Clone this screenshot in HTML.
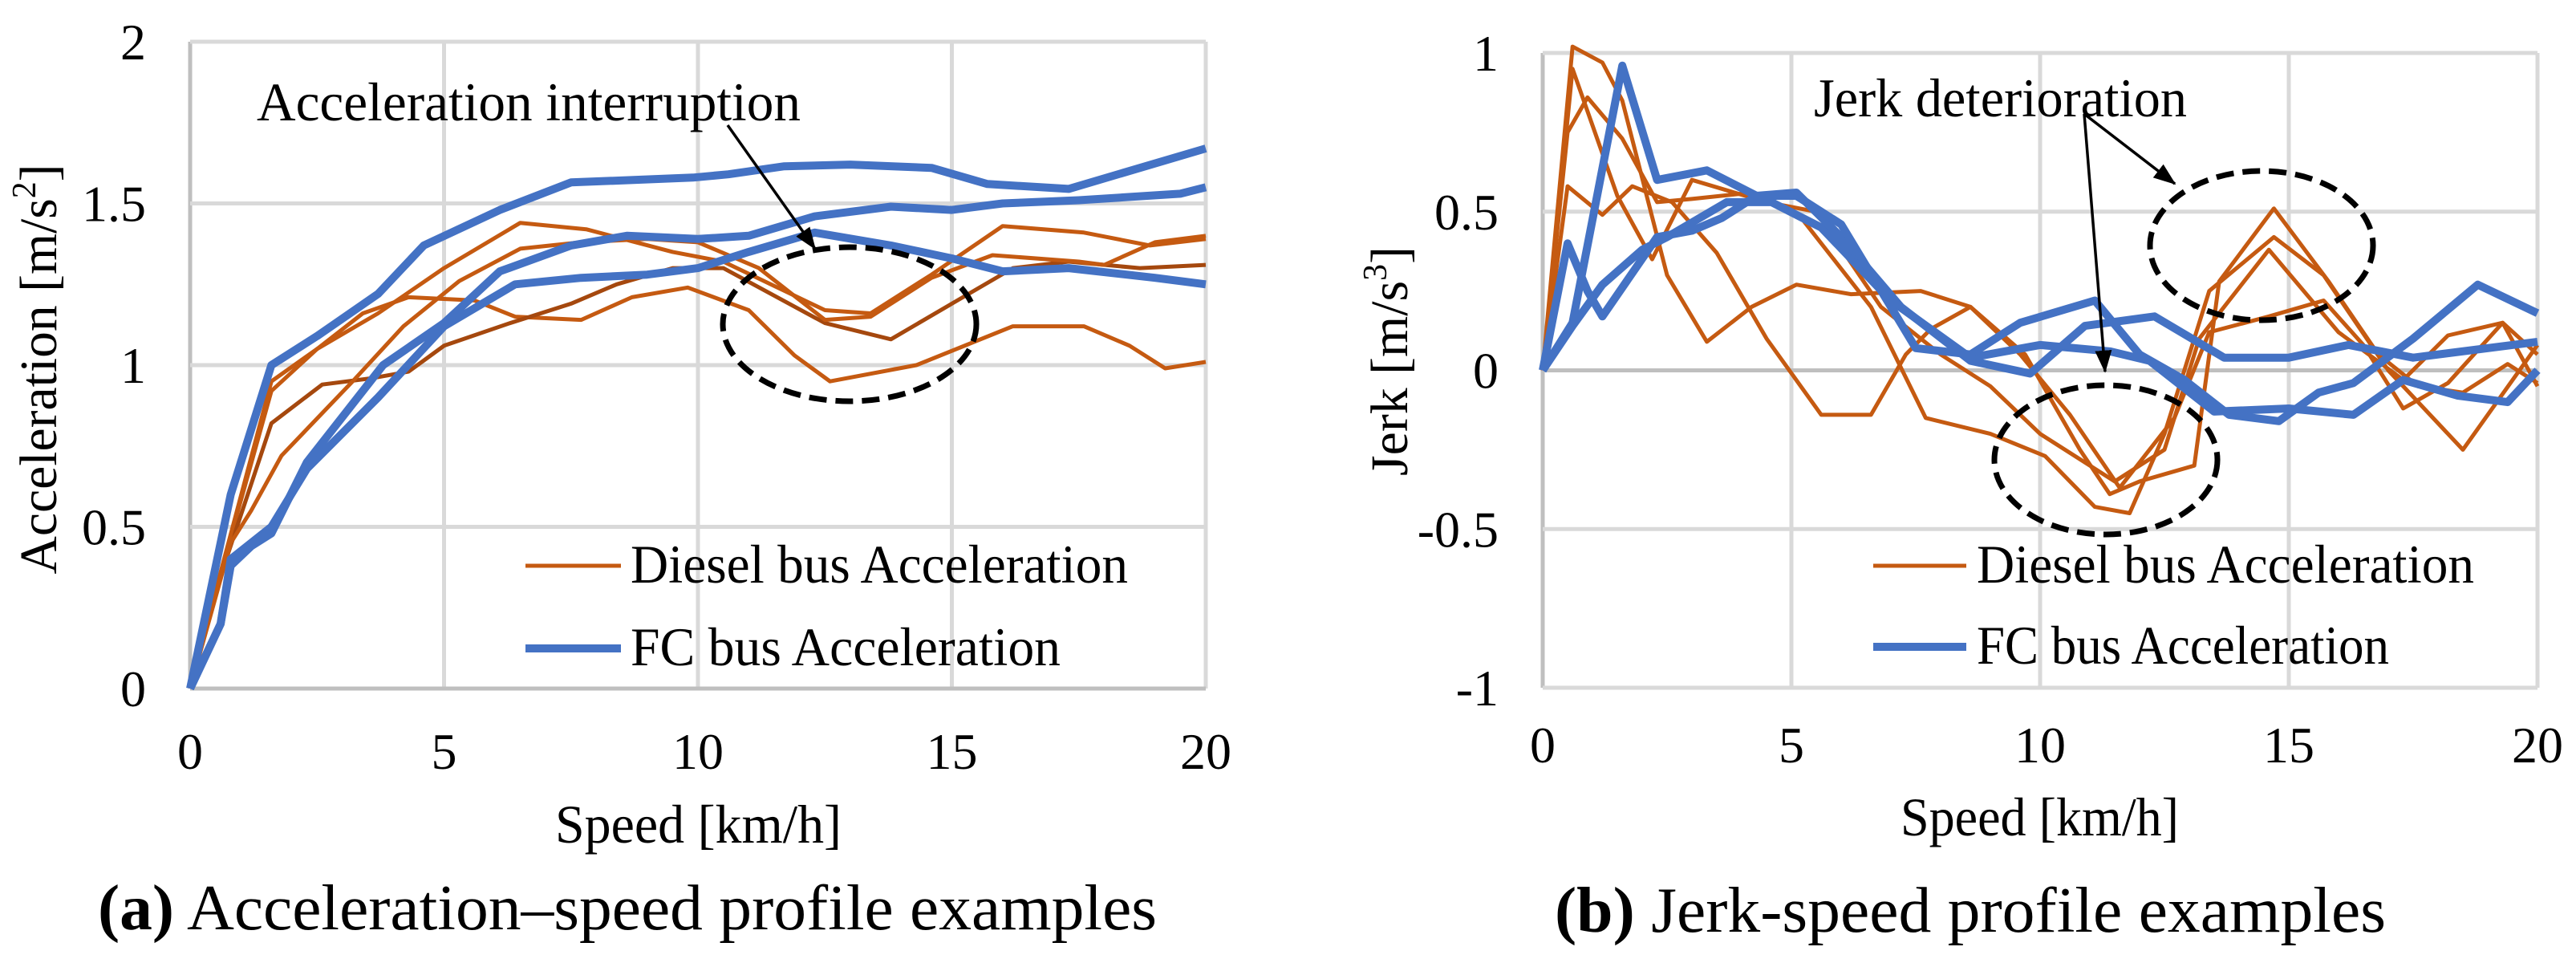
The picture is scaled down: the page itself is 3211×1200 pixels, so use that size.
<!DOCTYPE html>
<html><head><meta charset="utf-8"><style>
html,body{margin:0;padding:0;background:#fff;}
svg{display:block;font-family:"Liberation Serif",serif;}
</style></head><body>
<svg id="fig" width="3211" height="1200" viewBox="0 0 3211 1200" xmlns="http://www.w3.org/2000/svg">
<g id="chartA"></g>
<g id="chartB"></g>
</svg>
<script>
// ---------- Chart A data ----------
const aXTicks = [0, 5, 10, 15, 20];
const aYTicks = [0, 0.5, 1, 1.5, 2];
const aYTickLabels = ["0", "0.5", "1", "1.5", "2"];
const aFc1X = [0,0.8,1.6,2.5,3.7,4.6,6.1,7.5,9.9,10.6,11.7,13,14.6,15.7,17.3,20];
const aFc1Y = [0,0.6,1.0,1.09,1.22,1.37,1.48,1.565,1.58,1.59,1.615,1.62,1.61,1.56,1.545,1.67];
const aFc2X = [0,0.6,0.8,1.2,1.6,2.3,3.8,5,6.1,7.5,8.6,10,11,12.3,13.8,15,16,17.5,19.5,20];
const aFc2Y = [0,0.2,0.38,0.44,0.48,0.7,1.0,1.13,1.29,1.37,1.4,1.39,1.4,1.46,1.49,1.48,1.5,1.51,1.53,1.55];
const aFc3X = [0,0.6,0.8,1.6,2.3,3.7,5,6.4,7.7,9,10,11,12.3,13.8,15,16,17.3,19,20];
const aFc3Y = [0,0.2,0.4,0.5,0.68,0.9,1.12,1.25,1.27,1.28,1.3,1.35,1.41,1.37,1.33,1.29,1.3,1.27,1.25];
const aD1X = [0,0.5,1.6,2.5,3.7,5,6.5,7.8,9.5,10.5,12.5,13.4,14.6,16,17.6,18.9,20];
const aD1Y = [0,0.3,0.95,1.05,1.16,1.3,1.44,1.42,1.35,1.32,1.17,1.16,1.28,1.43,1.41,1.37,1.39];
const aD2X = [0,0.5,1.6,2.5,3.4,4.3,5.6,6.4,7.7,8.7,9.8,11,11.9,12.6,14.3,16.2,17.6,18.5,19.2,20];
const aD2Y = [0,0.3,0.92,1.05,1.16,1.21,1.2,1.15,1.14,1.21,1.24,1.17,1.03,0.95,1.0,1.12,1.12,1.06,0.99,1.01];
const aD3X = [0,0.5,1.6,2.6,3.6,4.3,5,6.3,7.5,8.4,9.5,10.5,12.5,13.8,15,16.2,17.3,18.7,20];
const aD3Y = [0,0.3,0.82,0.94,0.96,0.98,1.06,1.13,1.19,1.25,1.3,1.3,1.13,1.08,1.19,1.3,1.32,1.3,1.31];
const aD4X = [0,0.8,1.2,1.8,3.2,4.2,5.3,6.5,7.7,9,10,11.2,12.5,13.4,14.6,15.8,17.5,18,19,20];
const aD4Y = [0,0.45,0.55,0.72,0.95,1.12,1.26,1.36,1.38,1.39,1.38,1.3,1.14,1.15,1.27,1.34,1.32,1.31,1.38,1.4];

// ---------- Chart B data ----------
const bXTicks = [0, 5, 10, 15, 20];
const bYTicks = [-1, -0.5, 0, 0.5, 1];
const bYTickLabels = ["-1", "-0.5", "0", "0.5", "1"];
const bFc1X = [0,0.6,1.6,2.3,3.3,4.3,5.1,6,7.5,8.6,9.6,11.1,12,12.9,13.8,14.8,15.6,16.3,17.5,18.8,20];
const bFc1Y = [0,0.15,0.96,0.6,0.63,0.55,0.55,0.46,0.07,0.05,0.15,0.22,0.05,-0.03,-0.14,-0.16,-0.07,-0.04,0.1,0.27,0.18];
const bFc2X = [0,0.5,0.9,1.2,2.3,3,3.6,4.3,5.1,6,7.2,8.6,9.8,10.9,12.3,13.7,15,16.2,17.5,20];
const bFc2Y = [0,0.4,0.25,0.17,0.42,0.44,0.48,0.55,0.56,0.42,0.2,0.03,-0.01,0.14,0.17,0.04,0.04,0.08,0.04,0.09];
const bFc3X = [0,0.6,1.2,2,2.5,3.7,4.6,5.6,7,8.6,10,11.4,12.2,13.5,15,16.3,17.3,18.4,19.4,20];
const bFc3Y = [0,0.14,0.27,0.38,0.42,0.53,0.53,0.45,0.22,0.04,0.08,0.06,0.03,-0.13,-0.12,-0.14,-0.03,-0.08,-0.1,0];
const bD1X = [0,0.5,0.9,1.6,2.3,3,4.2,5.2,6.6,7.7,9,10.1,11.1,11.8,12.5,13.4,14.7,15.7,17,18.5,20];
const bD1Y = [0,0.75,0.86,0.73,0.53,0.54,0.56,0.48,0.2,-0.15,-0.2,-0.27,-0.43,-0.45,-0.2,0.25,0.42,0.3,0,-0.25,0.08];
const bD2X = [0,0.6,1.2,1.6,2.5,3.3,4.2,5.1,6.2,7.6,8.6,9.6,10.6,11.6,12.7,13.4,14.6,15.7,16.5,17.3,18.2,19.3,20];
const bD2Y = [0,1.02,0.97,0.85,0.3,0.09,0.2,0.27,0.24,0.25,0.2,0.05,-0.14,-0.37,-0.15,0.12,0.17,0.22,0.08,-0.12,-0.04,0.15,-0.05];
const bD3X = [0,0.5,1.2,1.8,2.6,3.5,4.5,5.6,6.6,7.3,7.8,8.6,9.7,10.8,11.4,12,13.1,13.6,14.7,15.8,16.8,17.6,18.5,19.4,20];
const bD3Y = [0,0.58,0.49,0.58,0.53,0.37,0.1,-0.14,-0.14,0.05,0.13,0.2,0.05,-0.25,-0.39,-0.35,-0.3,0.28,0.51,0.28,0.05,-0.05,-0.07,0.02,-0.04];
const bD4X = [0,0.6,1.5,2.2,3,4.5,5.5,6.8,8,9,10,11.5,12.5,13.2,14.6,16,17.3,18.2,19.3,20];
const bD4Y = [0,0.95,0.55,0.35,0.6,0.53,0.5,0.2,0.05,-0.05,-0.2,-0.35,-0.25,0.1,0.38,0.12,-0.03,0.11,0.15,0.05];

const NS = "http://www.w3.org/2000/svg";
function mk(parent, tag, attrs, text) {
  const el = document.createElementNS(NS, tag);
  for (const k in attrs) el.setAttribute(k, attrs[k]);
  if (text !== undefined) el.textContent = text;
  parent.appendChild(el);
  return el;
}
const ORANGE = "#c55a11", BROWN = "#a5480e", BLUE = "#4472c4";

function buildChart(g, cfg) {
  const sx = v => cfg.x0 + v / 20 * (cfg.x1 - cfg.x0);
  const sy = v => cfg.yb + (v - cfg.ymin) / (cfg.ymax - cfg.ymin) * (cfg.yt - cfg.yb);
  cfg.xTicks.forEach((t, i) => {
    const l = mk(g, "line", {x1: sx(t), x2: sx(t), y1: cfg.yt, y2: cfg.yb, stroke: i === 0 ? "#bfbfbf" : "#d9d9d9", "stroke-width": 5});
    
    
    const tx = mk(g, "text", {x: sx(t), y: cfg.xTickY, "font-size": 64, "text-anchor": "middle"}, String(t));
    
    
  });
  cfg.yTicks.forEach((t, i) => {
    const isAxis = t === cfg.axisY;
    const l = mk(g, "line", {x1: cfg.x0, x2: cfg.x1, y1: sy(t), y2: sy(t), stroke: isAxis ? "#bfbfbf" : "#d9d9d9", "stroke-width": 5});
    
    
    const tx = mk(g, "text", {x: cfg.yTickX, y: sy(t) + 22, "font-size": 64, "text-anchor": "end"}, cfg.yTickLabels[i]);
    
    
  });
  cfg.series.forEach(s => {
    const pts = s.x.map((v, i) => sx(v).toFixed(1) + "," + sy(s.y[i]).toFixed(1)).join(" ");
    const p = mk(g, "polyline", {points: pts, fill: "none", stroke: s.color, "stroke-width": s.w, "stroke-linejoin": "round"});
    
    
  });
}

const gA = document.getElementById("chartA");
buildChart(gA, {
  x0: 237, x1: 1503, yb: 858, yt: 52, ymin: 0, ymax: 2, axisY: 0,
  xTicks: aXTicks, yTicks: aYTicks, yTickLabels: aYTickLabels, xTickY: 958, yTickX: 182,
  series: [
    {x: aD2X, y: aD2Y, color: ORANGE, w: 5, name: "diesel-accel-line-2"},
    {x: aD3X, y: aD3Y, color: BROWN, w: 5, name: "diesel-accel-line-3"},
    {x: aD4X, y: aD4Y, color: ORANGE, w: 5, name: "diesel-accel-line-4"},
    {x: aD1X, y: aD1Y, color: ORANGE, w: 5, name: "diesel-accel-line-1"},
    {x: aFc3X, y: aFc3Y, color: BLUE, w: 10, name: "fc-accel-line-3"},
    {x: aFc2X, y: aFc2Y, color: BLUE, w: 10, name: "fc-accel-line-2"},
    {x: aFc1X, y: aFc1Y, color: BLUE, w: 10, name: "fc-accel-line-1"}
  ]
});
const gB = document.getElementById("chartB");
buildChart(gB, {
  x0: 1923, x1: 3163, yb: 857, yt: 66, ymin: -1, ymax: 1, axisY: 0,
  xTicks: bXTicks, yTicks: bYTicks, yTickLabels: bYTickLabels, xTickY: 950, yTickX: 1868,
  series: [
    {x: bD1X, y: bD1Y, color: ORANGE, w: 5, name: "diesel-jerk-line-1"},
    {x: bD2X, y: bD2Y, color: ORANGE, w: 5, name: "diesel-jerk-line-2"},
    {x: bD3X, y: bD3Y, color: ORANGE, w: 5, name: "diesel-jerk-line-3"},
    {x: bD4X, y: bD4Y, color: ORANGE, w: 5, name: "diesel-jerk-line-4"},
    {x: bFc3X, y: bFc3Y, color: BLUE, w: 10, name: "fc-jerk-line-3"},
    {x: bFc2X, y: bFc2Y, color: BLUE, w: 10, name: "fc-jerk-line-2"},
    {x: bFc1X, y: bFc1Y, color: BLUE, w: 10, name: "fc-jerk-line-1"}
  ]
});
</script>
<svg width="3211" height="1200" viewBox="0 0 3211 1200" style="position:absolute;left:0;top:0;font-family:'Liberation Serif',serif">
<defs>
<marker id="ah2" markerWidth="8" markerHeight="6" refX="7.5" refY="3" orient="auto" markerUnits="strokeWidth"><path d="M0,0 L8,3 L0,6 z" fill="#000"/></marker>
</defs>
<text x="320" y="150" font-size="68" textLength="678" lengthAdjust="spacingAndGlyphs">Acceleration interruption</text>
<line x1="907" y1="156" x2="1016" y2="310" stroke="#000" stroke-width="3.5" marker-end="url(#ah2)"/>
<ellipse cx="1059" cy="404" rx="158" ry="96" fill="none" stroke="#000" stroke-width="7" stroke-dasharray="22,11"/>
<g>
<line x1="655" y1="705" x2="774" y2="705" stroke="#c55a11" stroke-width="5"/>
<text x="786" y="726" font-size="68" textLength="620" lengthAdjust="spacingAndGlyphs">Diesel bus Acceleration</text>
<line x1="655" y1="808" x2="774" y2="808" stroke="#4472c4" stroke-width="10"/>
<text x="786" y="829" font-size="68" textLength="536" lengthAdjust="spacingAndGlyphs">FC bus Acceleration</text>
</g>
<text x="692" y="1050" font-size="68" textLength="357" lengthAdjust="spacingAndGlyphs">Speed  [km/h]</text>
<text transform="translate(70,460) rotate(-90)" font-size="66" text-anchor="middle" textLength="511" lengthAdjust="spacingAndGlyphs">Acceleration  [m/s<tspan font-size="42" dy="-26">2</tspan><tspan dy="26">]</tspan></text>
<text x="122" y="1158" font-size="80" textLength="1320" lengthAdjust="spacingAndGlyphs"><tspan font-weight="bold">(a)</tspan> Acceleration–speed profile examples</text>

<text x="2261" y="145" font-size="68" textLength="465" lengthAdjust="spacingAndGlyphs">Jerk deterioration</text>
<line x1="2598" y1="142" x2="2711" y2="229" stroke="#000" stroke-width="3.5" marker-end="url(#ah2)"/>
<line x1="2598" y1="142" x2="2624" y2="463" stroke="#000" stroke-width="3.5" marker-end="url(#ah2)"/>
<ellipse cx="2819" cy="306" rx="139" ry="93" fill="none" stroke="#000" stroke-width="7" stroke-dasharray="22,11"/>
<ellipse cx="2625" cy="573" rx="139" ry="93" fill="none" stroke="#000" stroke-width="7" stroke-dasharray="22,11"/>
<g>
<line x1="2335" y1="705" x2="2451" y2="705" stroke="#c55a11" stroke-width="5"/>
<text x="2464" y="726" font-size="68" textLength="620" lengthAdjust="spacingAndGlyphs">Diesel bus Acceleration</text>
<line x1="2335" y1="806" x2="2451" y2="806" stroke="#4472c4" stroke-width="10"/>
<text x="2464" y="827" font-size="68" textLength="514" lengthAdjust="spacingAndGlyphs">FC bus Acceleration</text>
</g>
<text x="2369" y="1041" font-size="68" textLength="347" lengthAdjust="spacingAndGlyphs">Speed  [km/h]</text>
<text transform="translate(1754,450) rotate(-90)" font-size="66" text-anchor="middle" textLength="286" lengthAdjust="spacingAndGlyphs">Jerk  [m/s<tspan font-size="42" dy="-26">3</tspan><tspan dy="26">]</tspan></text>
<text x="1938" y="1161" font-size="80" textLength="1036" lengthAdjust="spacingAndGlyphs"><tspan font-weight="bold">(b)</tspan> Jerk-speed profile examples</text>
</svg>
</body></html>
